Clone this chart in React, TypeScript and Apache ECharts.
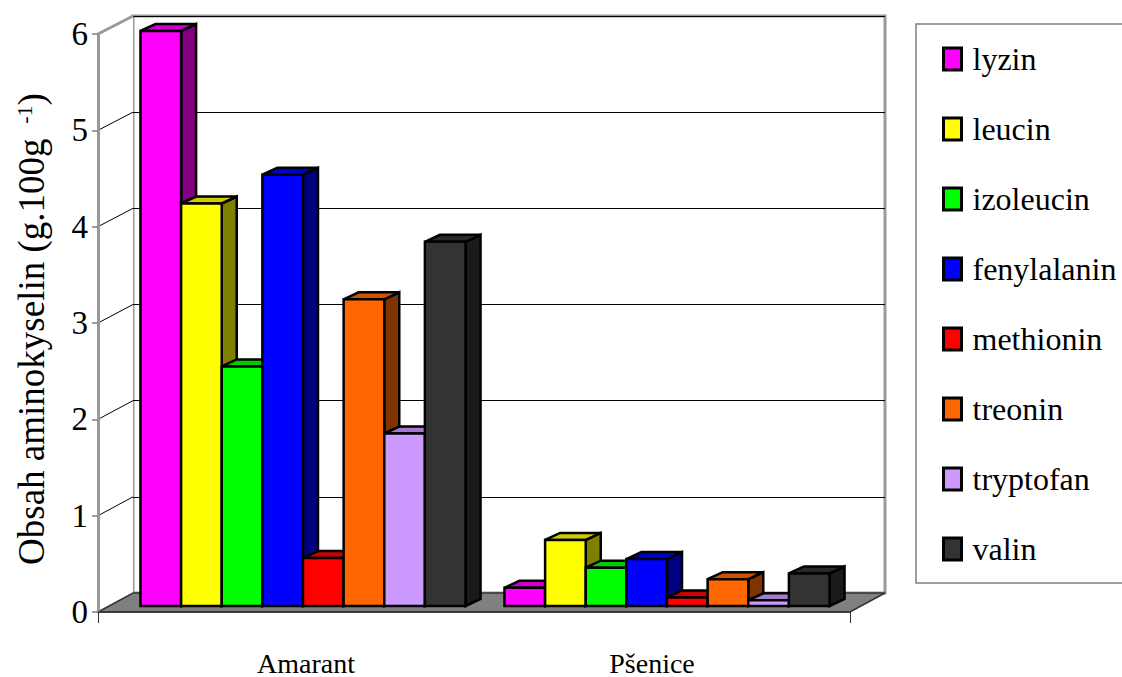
import React, { useEffect, useRef } from "react";
import * as echarts from "echarts";

const categories = ["Amarant", "Pšenice"];
const seriesNames = ["lyzin", "leucin", "izoleucin", "fenylalanin", "methionin", "treonin", "tryptofan", "valin"];
const amarantValues = [6.0, 4.2, 2.5, 4.5, 0.5, 3.2, 1.8, 3.8];
const psheniceValues = [0.19, 0.69, 0.4, 0.49, 0.09, 0.28, 0.06, 0.34];
const colors = ["#ff00ff", "#ffff00", "#00ff00", "#0000ff", "#ff0000", "#ff6600", "#cc99ff", "#333333"];
const yMin = 0;
const yMax = 6;
const yInterval = 1;
const yTickValues = [1, 2, 3, 4, 5];

const FONT = "'Liberation Serif', serif";
const FRONT = { left: 98, top: 34, right: 850, bottom: 612 };
const BACK = { left: 133, top: 16, right: 885, bottom: 593 };
const BARS = { left: 121, right: 849, top: 31, bottom: 606 };
const LABELS = { left: 133, right: 825 };
const CAT_GAP = 0.107;
const DX = 15;
const DY = 7;
const W = 1122;
const H = 677;

function shade(hex: string, f: number) {
  const n = parseInt(hex.slice(1), 16);
  const r = Math.round(((n >> 16) & 255) * f);
  const g = Math.round(((n >> 8) & 255) * f);
  const b = Math.round((n & 255) * f);
  return `rgb(${r},${g},${b})`;
}

function makeRender(idx: number, color: string) {
  const N = seriesNames.length;
  return (params: any, api: any) => {
    const cat = api.value(0);
    const val = api.value(1);
    const base = api.coord([cat, 0]);
    const top = api.coord([cat, val]);
    const catW = api.size([1, 0])[0];
    const groupW = catW * (1 - CAT_GAP);
    const bw = groupW / N;
    const x0 = base[0] - groupW / 2 + idx * bw;
    const x1 = x0 + bw;
    const yb = base[1];
    const yt = top[1];
    const st = { stroke: "#000", lineWidth: 2.5, lineJoin: "miter" };
    return {
      type: "group",
      children: [
        {
          type: "polygon",
          shape: { points: [[x1, yb], [x1 + DX, yb - DY], [x1 + DX, yt - DY], [x1, yt]] },
          style: { fill: shade(color, 0.5), ...st },
        },
        {
          type: "polygon",
          shape: { points: [[x0, yt], [x0 + DX, yt - DY], [x1 + DX, yt - DY], [x1, yt]] },
          style: { fill: shade(color, 0.8), ...st },
        },
        {
          type: "rect",
          shape: { x: x0, y: yt, width: bw, height: yb - yt },
          style: { fill: color, ...st },
        },
      ],
    };
  };
}

export default function App() {
  const ref = useRef<HTMLDivElement>(null);
  useEffect(() => {
    if (!ref.current) return;
    const chart = echarts.init(ref.current, null, { renderer: "svg" });
    const option: any = {
      animation: false,
      backgroundColor: "#fff",
      textStyle: { fontFamily: FONT },
      color: colors,
      grid: [
        { left: FRONT.left, top: FRONT.top, width: FRONT.right - FRONT.left, height: FRONT.bottom - FRONT.top },
        {
          left: BACK.left, top: BACK.top, width: BACK.right - BACK.left, height: BACK.bottom - BACK.top,
          show: true, backgroundColor: "#fff", borderColor: "#999", borderWidth: 3,
        },
        { left: BARS.left, top: BARS.top, width: BARS.right - BARS.left, height: BARS.bottom - BARS.top },
        { left: LABELS.left, top: BARS.top, width: LABELS.right - LABELS.left, height: BARS.bottom - BARS.top },
      ],
      xAxis: [
        {
          gridIndex: 0, type: "value", min: 0, max: 1, interval: 1, z: 4,
          axisLine: { show: true, lineStyle: { color: "#333", width: 1.5 } },
          axisTick: { show: true, length: 11, lineStyle: { color: "#333", width: 1 } },
          axisLabel: { show: false },
          splitLine: { show: false },
        },
        { gridIndex: 1, type: "category", data: categories, show: false },
        { gridIndex: 2, type: "category", data: categories, show: false },
        {
          gridIndex: 3, type: "category", data: categories,
          axisLine: { show: false }, axisTick: { show: false },
          axisLabel: { show: true, fontSize: 28, fontFamily: FONT, color: "#000", margin: 46 },
        },
      ],
      yAxis: [
        {
          gridIndex: 0, type: "value", min: yMin, max: yMax, interval: yInterval, z: 4,
          axisLine: { show: true, lineStyle: { color: "#999", width: 3 } },
          axisTick: { show: true, length: 6, lineStyle: { color: "#808080", width: 1.5 } },
          axisLabel: { fontSize: 33, fontFamily: FONT, color: "#000", margin: 10 },
          splitLine: { show: false },
          name: "Obsah aminokyselin (g.100g {sup| -1})",
          nameLocation: "middle",
          nameGap: 48,
          nameTextStyle: {
            fontSize: 37, fontFamily: FONT, color: "#000", padding: [0, 12, 0, 0],
            rich: { sup: { fontSize: 22, fontFamily: FONT, color: "#000", verticalAlign: "top" } },
          },
        },
        {
          gridIndex: 1, type: "value", min: yMin, max: yMax, interval: yInterval,
          axisLine: { show: false }, axisTick: { show: false }, axisLabel: { show: false },
          splitLine: { show: true, lineStyle: { color: "#000", width: 1 } },
        },
        { gridIndex: 2, type: "value", min: yMin, max: yMax, interval: yInterval, show: false, splitLine: { show: false } },
        { gridIndex: 3, type: "value", min: yMin, max: yMax, interval: yInterval, show: false, splitLine: { show: false } },
      ],
      legend: {
        orient: "vertical",
        left: 916,
        top: 24,
        padding: [17, 7, 16, 26],
        borderColor: "#808080",
        borderWidth: 1.5,
        backgroundColor: "#fff",
        icon: "rect",
        itemWidth: 18,
        itemHeight: 22,
        itemGap: 34,
        itemStyle: { borderColor: "#000", borderWidth: 3 },
        textStyle: { fontSize: 32, fontFamily: FONT, color: "#000", lineHeight: 36, padding: [0, 0, 0, 6] },
        data: seriesNames,
      },
      series: seriesNames.map((name, i) => ({
        type: "custom",
        name,
        xAxisIndex: 2,
        yAxisIndex: 2,
        z: 5,
        itemStyle: { color: colors[i] },
        encode: { x: 0, y: 1 },
        renderItem: makeRender(i, colors[i]),
        data: [
          [0, amarantValues[i]],
          [1, psheniceValues[i]],
        ],
      })),
    };
    chart.setOption(option);

    const frontY = (v: number) => chart.convertToPixel({ yAxisIndex: 0 } as any, v) as number;
    const backY = (v: number) => chart.convertToPixel({ yAxisIndex: 1 } as any, v) as number;
    const graphics: any[] = [
      {
        type: "polygon", z: 0, silent: true,
        shape: { points: [[FRONT.left, frontY(yMax)], [BACK.left, backY(yMax)], [BACK.left, backY(yMin)], [FRONT.left, frontY(yMin)]] },
        style: { fill: "#fff" },
      },
      {
        type: "line", z: 1, silent: true,
        shape: { x1: FRONT.left, y1: frontY(yMax), x2: BACK.left, y2: backY(yMax) },
        style: { stroke: "#999", lineWidth: 3 },
      },
      ...yTickValues.map((v) => ({
        type: "line", z: 1, silent: true,
        shape: { x1: FRONT.left, y1: frontY(v), x2: BACK.left, y2: backY(v) },
        style: { stroke: "#000", lineWidth: 1 },
      })),
      {
        type: "polygon", z: 1, silent: true,
        shape: { points: [[FRONT.left, frontY(yMin)], [FRONT.right, frontY(yMin)], [BACK.right, backY(yMin)], [BACK.left, backY(yMin)]] },
        style: { fill: "#808080", stroke: "#333", lineWidth: 1.5 },
      },
    ];
    chart.setOption({ graphic: graphics });
    return () => chart.dispose();
  }, []);
  return <div ref={ref} style={{ position: "fixed", left: 0, top: 0, width: W, height: H }} />;
}
